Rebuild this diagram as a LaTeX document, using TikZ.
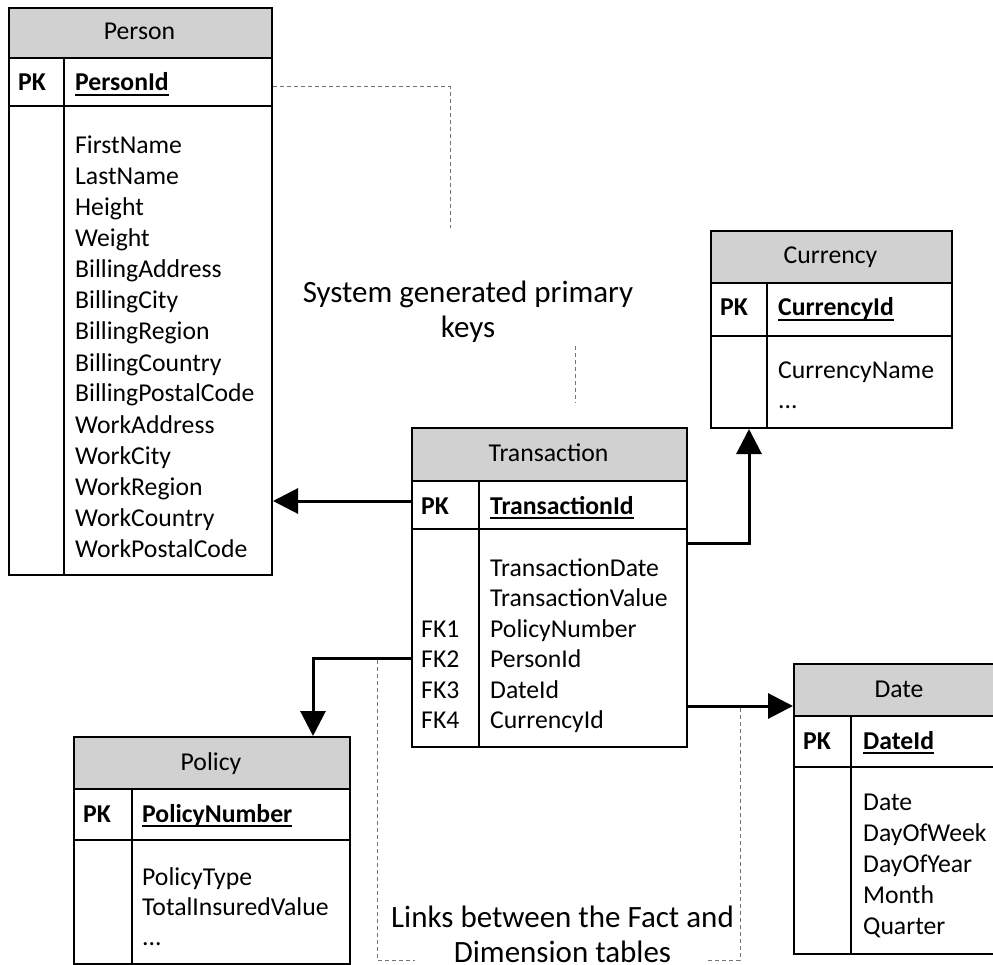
\documentclass[tikz,border=0pt]{standalone}
\usepackage{fontspec}
\setmainfont{Carlito}
\usetikzlibrary{arrows.meta}

\definecolor{hdrgray}{gray}{0.82}
\definecolor{noteline}{gray}{0.45}

% bold, underlined key column name
\newsavebox\pkbox
\newcommand\pkfield[1]{\sbox\pkbox{\bfseries #1}\rlap{\rule[-5pt]{\wd\pkbox}{2.2pt}}\usebox\pkbox}

\tikzset{
  tbl/.style={draw, line width=2pt, fill=white, inner sep=0pt, anchor=north west},
  hdr/.style={draw, line width=2pt, fill=hdrgray, inner sep=0pt, anchor=north west},
  rowline/.style={line width=2pt},
  tabtitle/.style={anchor=base, inner sep=0pt, font=\fontsize{25.7}{30}\selectfont},
  fld/.style={anchor=base west, inner sep=0pt, font=\fontsize{25.7}{30}\selectfont},
  pklabel/.style={anchor=base west, inner sep=0pt, font=\fontsize{25.7}{30}\selectfont\bfseries},
  link/.style={line width=3pt, -{Triangle[length=25pt,width=25pt]}},
  note/.style={draw=noteline, line width=1pt, dash pattern=on 4pt off 3pt},
  caption/.style={anchor=base, inner sep=0pt, text depth=0pt, font=\fontsize{31}{36}\selectfont},
}

% #1 name, #2 left, #3 divider, #4 right, #5 top, #6 header bottom,
% #7 key-row bottom, #8 bottom, #9 title
\newcommand\ertable[9]{%
  \node[hdr, minimum width={(#4)-(#2)}, minimum height={(#6)-(#5)}] (#1-head) at (#2,#5) {};
  \node[tbl, minimum width={(#4)-(#2)}, minimum height={(#8)-(#6)}] (#1) at (#2,#6) {};
  \draw[rowline] (#2,#7) -- (#4,#7);
  \draw[rowline] (#3,#6) -- (#3,#8);
  \node[tabtitle] (#1-title) at ({((#2)+(#4))/2},{((#5)+(#6))/2+8}) {#9};
  \node[pklabel] (#1-pk) at ({(#2)+10},{(#6)+34}) {PK};
}

\begin{document}
\begin{tikzpicture}[x=1pt, y=-1pt]
  \useasboundingbox (0,0) rectangle (993,965);

  % ---------------- tables ----------------
  \ertable{person}{8}{64}{271}{7}{57}{106}{574}{Person}
  \node[fld] (person-key) at (75,91) {\pkfield{PersonId}};
  \foreach \f [count=\i] in {FirstName,LastName,Height,Weight,BillingAddress,
      BillingCity,BillingRegion,BillingCountry,BillingPostalCode,WorkAddress,
      WorkCity,WorkRegion,WorkCountry,WorkPostalCode}
    \node[fld] (person-f\i) at (75,{154+31*(\i-1)}) {\f};

  \ertable{currency}{710}{767}{951}{230}{282}{336}{427}{Currency}
  \node[fld] (currency-key) at (778,316) {\pkfield{CurrencyId}};
  \node[fld] (currency-f1) at (778,378) {CurrencyName};
  \node[fld] (currency-f2) at (778,408.5) {...};

  \ertable{trans}{411}{479}{686}{427}{480}{529}{746}{Transaction}
  \node[fld] (trans-key) at (490,514) {\pkfield{TransactionId}};
  \foreach \f [count=\i] in {TransactionDate,TransactionValue,PolicyNumber,
      PersonId,DateId,CurrencyId}
    \node[fld] (trans-f\i) at (490,{576+30.5*(\i-1)}) {\f};
  \foreach \k [count=\i] in {FK1,FK2,FK3,FK4}
    \node[fld] (trans-fk\i) at (421,{637+30.5*(\i-1)}) {\k};

  \ertable{policy}{73}{132}{349}{736}{788}{840}{963}{Policy}
  \node[fld] (policy-key) at (142,822) {\pkfield{PolicyNumber}};
  \node[fld] (policy-f1) at (142,885) {PolicyType};
  \node[fld] (policy-f2) at (142,915) {TotalInsuredValue};
  \node[fld] (policy-f3) at (142,945) {...};

  \ertable{date}{793}{851}{1005}{663}{715}{767}{953}{Date}
  \node[fld] (date-key) at (863,749) {\pkfield{DateId}};
  \foreach \f [count=\i] in {Date,DayOfWeek,DayOfYear,Month,Quarter}
    \node[fld] (date-f\i) at (863,{810.5+31*(\i-1)}) {\f};

  % ---------------- foreign key links ----------------
  \coordinate (tx-person)   at (trans.west |- 0,501);
  \coordinate (tx-currency) at (trans.east |- 0,543);
  \coordinate (tx-policy)   at (trans.west |- 0,658);
  \coordinate (tx-date)     at (trans.east |- 0,706);

  \draw[link] (tx-person) -- (tx-person -| person.east);
  \draw[link] (tx-currency) -| (749,0 |- currency.south);
  \draw[link] (tx-policy) -| (313,0 |- policy-head.north);
  \draw[link] (tx-date) -- (tx-date -| date-head.west);

  % ---------------- annotations ----------------
  \node[caption] (keys-l1) at (468,303) {System generated primary};
  \node[caption] (keys-l2) at (468,338) {keys};
  \node[caption] (links-l1) at (562.5,927) {Links between the Fact and};
  \node[caption] (links-l2) at (562.5,962) {Dimension tables};

  \coordinate (pk-note) at (person.east |- 0,87);
  \draw[note] (pk-note) -- (450,87) -- (450,228);
  \draw[note] (575,346) -- (575,403);
  \draw[note] (377,660) -- (377,960) -- (415,960);
  \draw[note] (740,708) -- (740,960) -- (707,960);
\end{tikzpicture}
\end{document}
